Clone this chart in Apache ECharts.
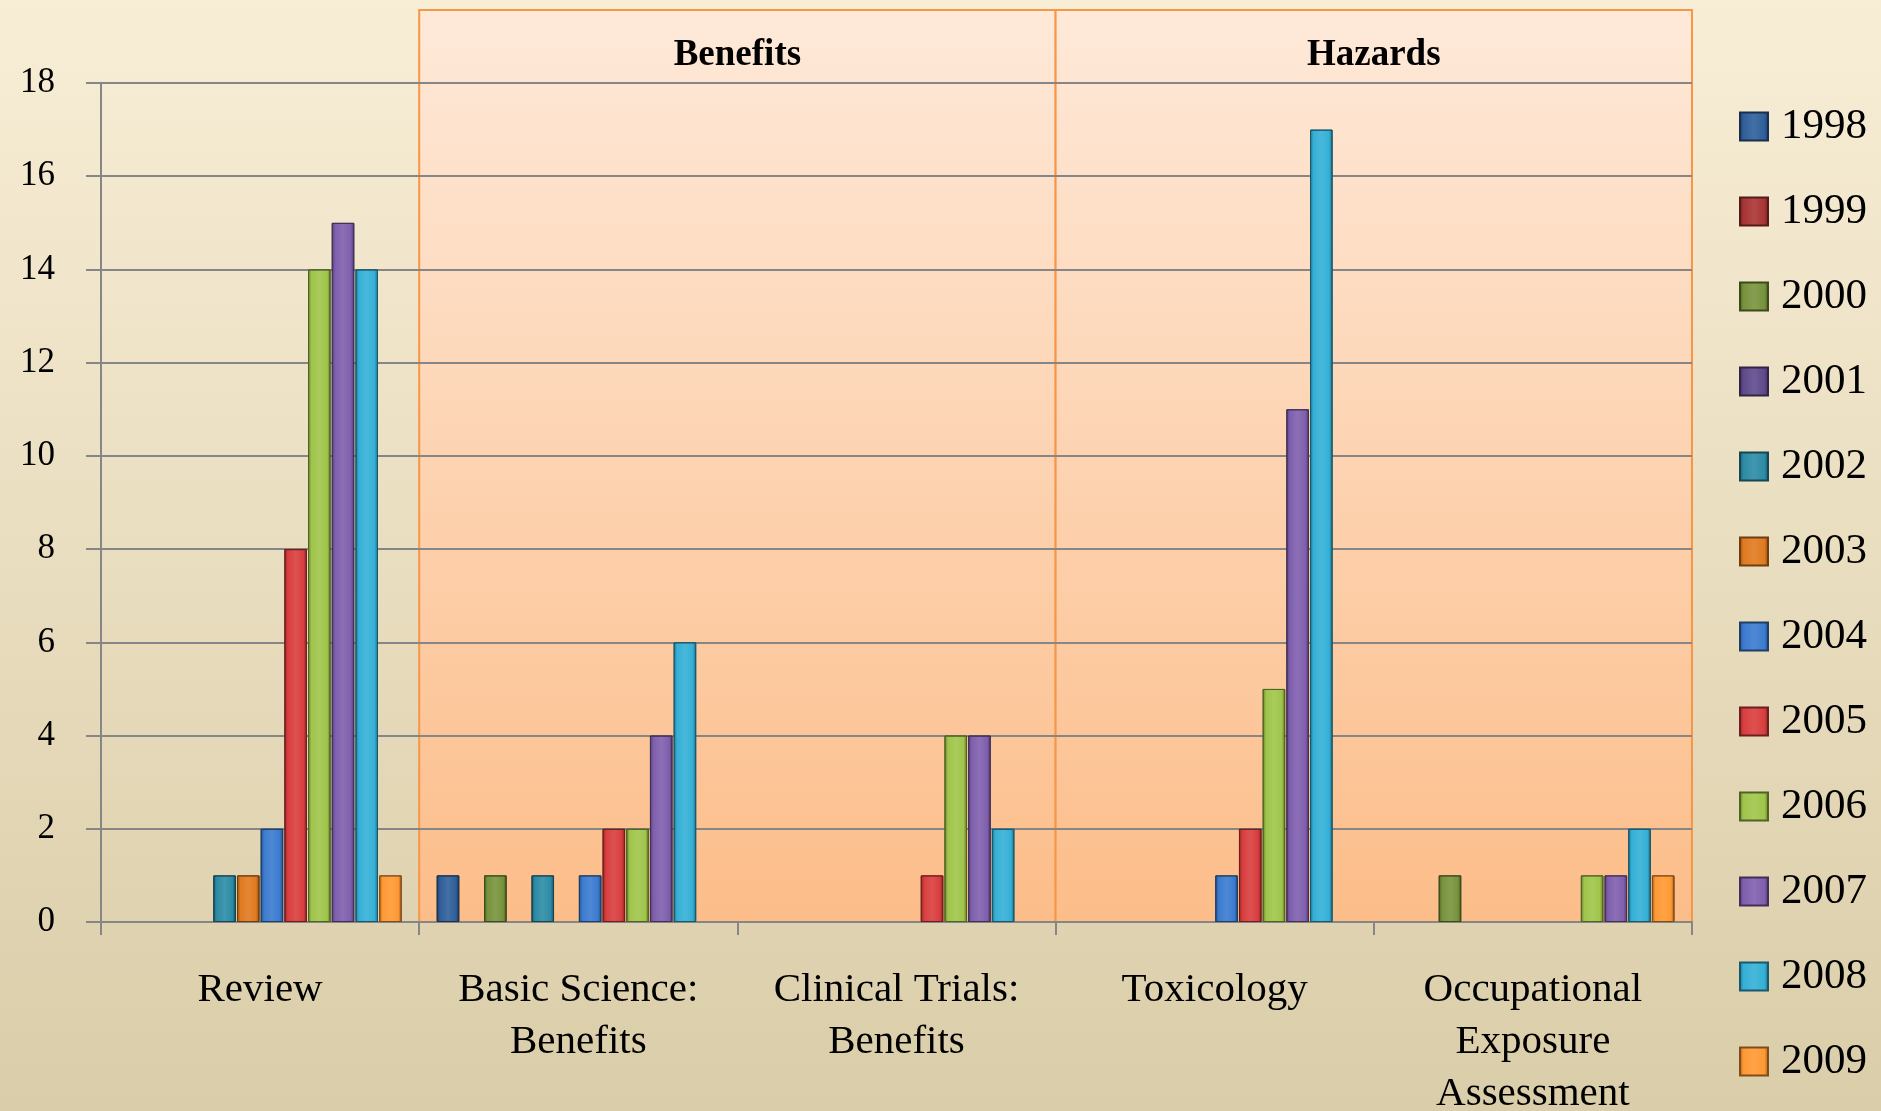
<!DOCTYPE html>
<html>
<head>
<meta charset="utf-8">
<script src="https://cdn.jsdelivr.net/npm/echarts@6/dist/echarts.min.js"></script>
<style>
  html, body { margin: 0; padding: 0; }
  #main { width: 1881px; height: 1111px; }
</style>
</head>
<body>
<div id="main"></div>
<script>
// categories and years
var categories = ['Review', 'Basic Science:\nBenefits', 'Clinical Trials:\nBenefits', 'Toxicology', 'Occupational\nExposure\nAssessment'];
var years = ['1998', '1999', '2000', '2001', '2002', '2003', '2004', '2005', '2006', '2007', '2008', '2009'];
var yTicks = [0, 2, 4, 6, 8, 10, 12, 14, 16, 18];

// counts per year, one value per category ('-' = no bar)
var y1998 = ['-', 1, '-', '-', '-'];
var y1999 = ['-', '-', '-', '-', '-'];
var y2000 = ['-', 1, '-', '-', 1];
var y2001 = ['-', '-', '-', '-', '-'];
var y2002 = [1, 1, '-', '-', '-'];
var y2003 = [1, '-', '-', '-', '-'];
var y2004 = [2, 1, '-', 1, '-'];
var y2005 = [8, 2, 1, 2, '-'];
var y2006 = [14, 2, 4, 5, 1];
var y2007 = [15, 4, 4, 11, 1];
var y2008 = [14, 6, 2, 17, 2];
var y2009 = [1, '-', '-', '-', 1];
var yearData = [y1998, y1999, y2000, y2001, y2002, y2003, y2004, y2005, y2006, y2007, y2008, y2009];

// group boxes: first and last category index, label
var boxFrom = [1, 3];
var boxTo = [2, 4];
var boxLabels = ['Benefits', 'Hazards'];

var colors = ['#2f5f9a', '#a93434', '#77933c', '#5f4a8b', '#2c8ba5', '#e07a1f',
              '#3b7bcf', '#d93e3e', '#9fc54a', '#7f5fae', '#34b0d6', '#ff9933'];

var FONT = '"Liberation Serif", "DejaVu Serif", serif';

function shade(hex, f) {
  var n = parseInt(hex.slice(1), 16);
  var r = (n >> 16) & 255, g = (n >> 8) & 255, b = n & 255;
  function c(v) {
    v = f < 0 ? v * (1 + f) : v + (255 - v) * f;
    return Math.max(0, Math.min(255, Math.round(v)));
  }
  return 'rgb(' + c(r) + ',' + c(g) + ',' + c(b) + ')';
}

var chart = echarts.init(document.getElementById('main'));

var series = years.map(function (yr, i) {
  var base = colors[i];
  return {
    name: yr,
    type: 'bar',
    barGap: '5%',
    barCategoryGap: '11%',
    data: yearData[i],
    itemStyle: {
      color: new echarts.graphic.LinearGradient(0, 0, 1, 0, [
        { offset: 0, color: shade(base, -0.35) },
        { offset: 0.15, color: base },
        { offset: 0.5, color: shade(base, 0.1) },
        { offset: 0.85, color: base },
        { offset: 1, color: shade(base, -0.4) }
      ]),
      borderColor: shade(base, -0.5),
      borderWidth: 1
    }
  };
});

series.push({
  type: 'custom',
  z: -1,
  silent: true,
  data: boxFrom.map(function (f, i) { return [f, boxTo[i]]; }),
  renderItem: function (params, api) {
    var bw = api.size([1, 0])[0];
    var x0 = api.coord([api.value(0), 0])[0] - bw / 2;
    var x1 = api.coord([api.value(1), 0])[0] + bw / 2;
    var yb = api.coord([0, 0])[1];
    var yt = params.coordSys.y - 73;
    return {
      type: 'group',
      children: [{
        type: 'rect',
        shape: { x: x0, y: yt, width: x1 - x0, height: yb - yt },
        style: {
          fill: new echarts.graphic.LinearGradient(0, 0, 0, 1, [
            { offset: 0, color: '#fee9d9' },
            { offset: 1, color: '#fcbd89' }
          ]),
          stroke: '#f79646',
          lineWidth: 2
        }
      }, {
        type: 'text',
        x: (x0 + x1) / 2,
        y: yt + 45,
        style: {
          text: boxLabels[params.dataIndex],
          font: 'bold 37px ' + FONT,
          fill: '#000',
          align: 'center',
          verticalAlign: 'middle'
        }
      }]
    };
  }
});

var option = {
  backgroundColor: new echarts.graphic.LinearGradient(0, 0, 0, 1, [
    { offset: 0, color: '#f8eed6' },
    { offset: 1, color: '#dacda9' }
  ]),
  grid: { left: 101, right: 189, top: 83, bottom: 189, outerBoundsMode: 'none' },
  legend: {
    orient: 'vertical',
    left: 1734,
    top: 100,
    itemWidth: 28,
    itemHeight: 28,
    itemGap: 42,
    icon: 'rect',
    data: years,
    textStyle: { fontFamily: FONT, fontSize: 43, lineHeight: 43, color: '#000', padding: [0, 0, 0, 8] }
  },
  xAxis: {
    type: 'category',
    data: categories,
    axisLine: { lineStyle: { color: '#868686', width: 2 } },
    axisTick: { show: true, length: 13, lineStyle: { color: '#868686', width: 2 } },
    axisLabel: { fontFamily: FONT, fontSize: 41, lineHeight: 52, color: '#000', margin: 42, interval: 0 }
  },
  yAxis: {
    type: 'value',
    min: yTicks[0],
    max: yTicks[yTicks.length - 1],
    interval: 2,
    axisLine: { show: true, lineStyle: { color: '#868686', width: 2 } },
    axisTick: { show: true, length: 15, lineStyle: { color: '#868686', width: 2 } },
    axisLabel: { fontFamily: FONT, fontSize: 35, color: '#000', margin: 46 },
    splitLine: { lineStyle: { color: '#868686', width: 2 } }
  },
  series: series
};

chart.setOption(option);
</script>
</body>
</html>
